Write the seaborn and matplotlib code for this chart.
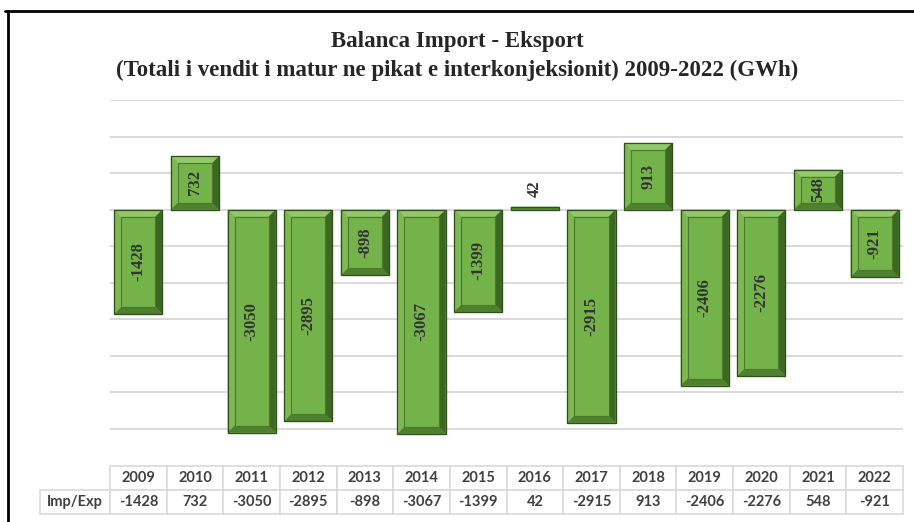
import matplotlib
matplotlib.use("Agg")
import matplotlib.pyplot as plt
from matplotlib.patches import Polygon
from matplotlib.lines import Line2D
import seaborn as sns
import pandas as pd

# data
years = ["2009", "2010", "2011", "2012", "2013", "2014", "2015",
         "2016", "2017", "2018", "2019", "2020", "2021", "2022"]
balance = [-1428, 732, -3050, -2895, -898, -3067, -1399,
           42, -2915, 913, -2406, -2276, 548, -921]
row_label = "Imp/Exp"

df = pd.DataFrame({"year": years, "value": balance})

sns.set_theme(style="white")
fig = plt.figure(figsize=(9.14, 5.22), dpi=100)
ax = fig.add_axes([110 / 914, 1 - 465.5 / 522, 793 / 914, 365.5 / 522])

sns.barplot(data=df, x="year", y="value", color="#74B24A", saturation=1,
            width=0.85, edgecolor="#3B5E25", linewidth=0.8, ax=ax, zorder=2)

ax.set_ylim(-3500, 1500)
ax.yaxis.grid(True, color="#D9D9D9", linewidth=1.4)
ax.set_axisbelow(True)
ax.set_xlim(-0.5, len(years) - 0.5)
ax.set_xticks([])
ax.set_yticks(range(-3000, 1501, 500))
ax.tick_params(left=False, labelleft=False, bottom=False, labelbottom=False)
ax.set_xlabel("")
ax.set_ylabel("")
for s in ax.spines.values():
    s.set_visible(False)

# bevel look on every bar
px_x = 1 / 56.6
px_y = 5000 / 365.5
for p, v in zip(ax.patches, balance):
    x0 = p.get_x()
    x1 = x0 + p.get_width()
    y0 = min(p.get_y(), p.get_y() + p.get_height())
    y1 = max(p.get_y(), p.get_y() + p.get_height())
    b = min(7, (y1 - y0) / px_y / 2)
    bx, by = b * px_x, b * px_y
    ix0, ix1, iy0, iy1 = x0 + bx, x1 - bx, y0 + by, y1 - by
    sides = [
        ([(x0, y1), (x1, y1), (ix1, iy1), (ix0, iy1)], "#93C86C"),
        ([(x0, y0), (x0, y1), (ix0, iy1), (ix0, iy0)], "#7DB852"),
        ([(x1, y0), (x1, y1), (ix1, iy1), (ix1, iy0)], "#3C6823"),
        ([(x0, y0), (x1, y0), (ix1, iy0), (ix0, iy0)], "#4E8030"),
    ]
    for pts, c in sides:
        ax.add_patch(Polygon(pts, closed=True, facecolor=c, edgecolor="none", zorder=3))
    ax.add_patch(Polygon([(x0, y0), (x1, y0), (x1, y1), (x0, y1)], closed=True,
                         facecolor="none", edgecolor="#2F4F1B", linewidth=0.9, zorder=4))
    if b > 3:
        ax.add_patch(Polygon([(ix0, iy0), (ix1, iy0), (ix1, iy1), (ix0, iy1)], closed=True,
                             facecolor="#74B24A", edgecolor="#4A7A2C", linewidth=0.8, zorder=4))

# value labels
for i, v in enumerate(balance):
    if abs(v) < 200:
        ypos = v + 240
    else:
        ypos = v / 2
    ax.text(i, ypos, str(v), rotation=90, ha="center", va="center",
            fontsize=12, fontweight="bold", color="#333333",
            family="Liberation Serif", zorder=5)

# data table under the chart
cells = [[""] + years, [row_label] + [str(v) for v in balance]]
tab = ax.table(cellText=cells, cellLoc="center",
               bbox=[-70 / 793, -48.5 / 365.5, 863 / 793, 48 / 365.5])
tab.auto_set_font_size(False)
for (r, c), cell in tab.get_celld().items():
    cell.set_edgecolor("#D9D9D9")
    cell.set_linewidth(1.2)
    cell.set_width(70 if c == 0 else 56.6)
    cell.get_text().set_fontsize(10.5)
    cell.get_text().set_fontweight("bold")
    cell.get_text().set_color("#404040")
    cell.get_text().set_family("Lato")
    if r == 0 and c == 0:
        cell.visible_edges = ""

fig.text(0.5, 1 - 42 / 522, "Balanca Import - Eksport", ha="center", va="center",
         fontsize=16.5, fontweight="bold", family="Liberation Serif", color="#262626")
fig.text(0.5, 1 - 70 / 522,
         "(Totali i vendit i matur ne pikat e interkonjeksionit) 2009-2022 (GWh)",
         ha="center", va="center", fontsize=16.5, fontweight="bold",
         family="Liberation Serif", color="#262626")

# outer frame
fig.add_artist(Line2D([5 / 914, 1], [1 - 10.5 / 522] * 2, color="black", linewidth=2))
fig.add_artist(Line2D([8 / 914] * 2, [1 - 10.5 / 522, 0], color="black", linewidth=2))

fig.savefig("out.png", dpi=100)
